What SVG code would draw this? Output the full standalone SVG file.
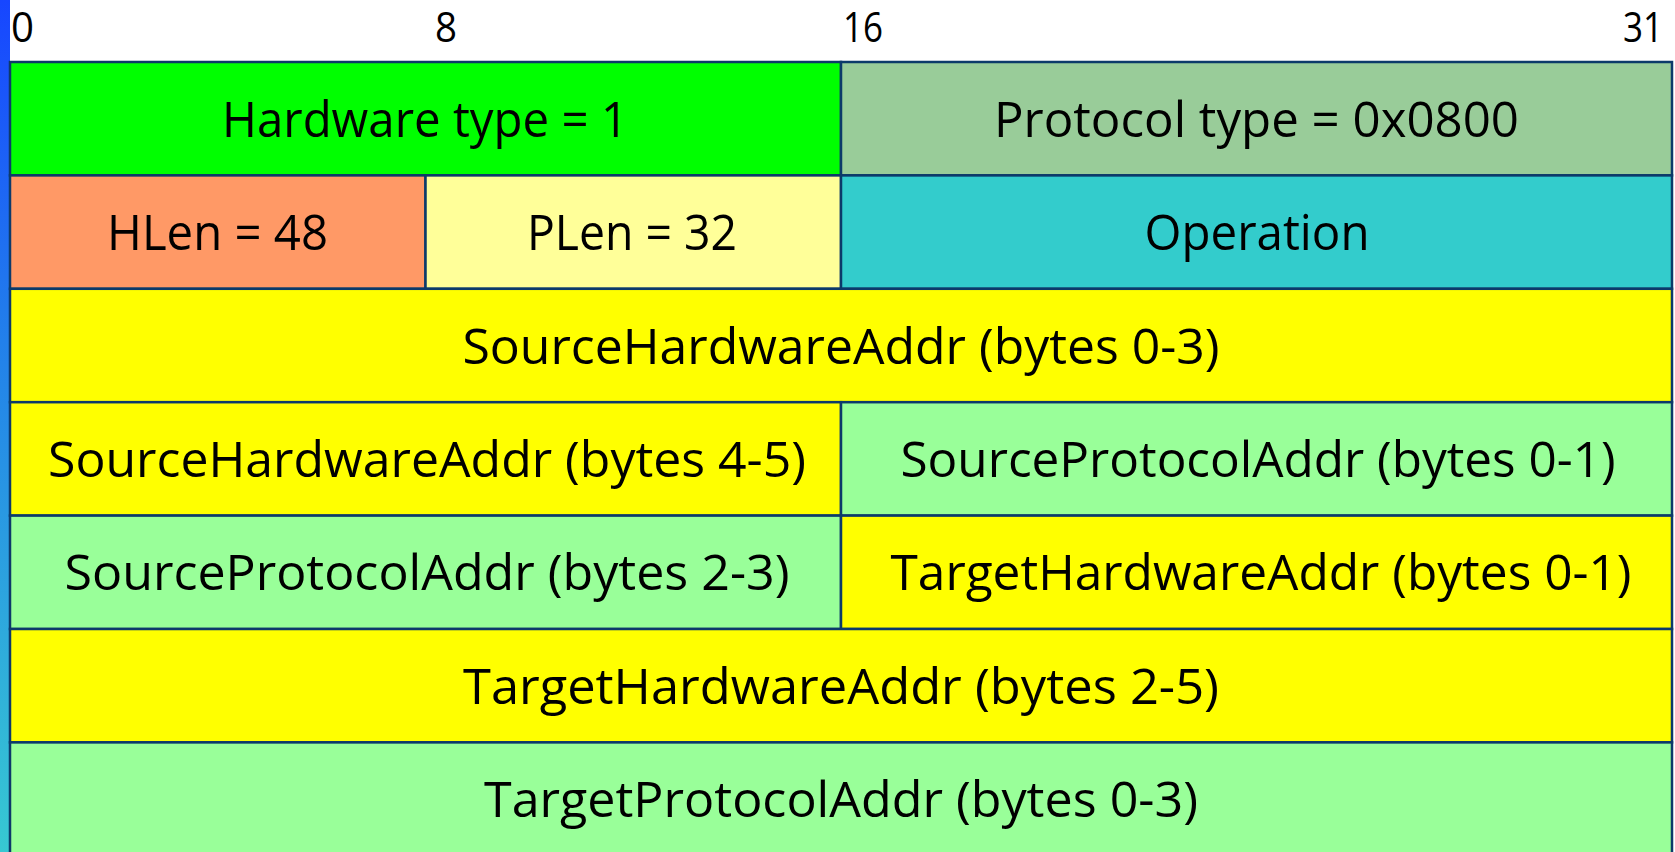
<svg xmlns="http://www.w3.org/2000/svg" width="1675" height="852" viewBox="0 0 1675 852">
  <defs>
    <linearGradient id="strip" x1="0" y1="0" x2="0" y2="1">
      <stop offset="0" stop-color="#1746ff"/>
      <stop offset="0.4" stop-color="#2280ea"/>
      <stop offset="1" stop-color="#37c8d2"/>
    </linearGradient>
  </defs>
  <style>
    .cell { stroke: #0c3a6a; stroke-width: 2.5; }
    .lbl { font-family: "Open Sans", "Liberation Sans", sans-serif; font-size: 50px; fill: #000; text-anchor: middle; }
    .hdr { font-family: "Open Sans", "Liberation Sans", sans-serif; font-size: 42px; fill: #000; }
  </style>
  <rect x="0" y="0" width="1675" height="852" fill="#ffffff"/>
  <rect x="0" y="0" width="10" height="852" fill="url(#strip)"/>

  <g id="header">
    <text class="hdr" x="11" y="42" textLength="23" lengthAdjust="spacingAndGlyphs">0</text>
    <text class="hdr" x="435" y="42" textLength="22" lengthAdjust="spacingAndGlyphs">8</text>
    <text class="hdr" x="843" y="42" textLength="40" lengthAdjust="spacingAndGlyphs">16</text>
    <text class="hdr" x="1623" y="42" textLength="40" lengthAdjust="spacingAndGlyphs">31</text>
  </g>

  <g id="hardware-type">
    <rect class="cell" x="10" y="62" width="831" height="113.4" fill="#00ff00"/>
    <text class="lbl" x="425" y="136.5" textLength="406" lengthAdjust="spacingAndGlyphs">Hardware type = 1</text>
  </g>
  <g id="protocol-type">
    <rect class="cell" x="841" y="62" width="831" height="113.4" fill="#99cc99"/>
    <text class="lbl" x="1256.5" y="136.5" textLength="525" lengthAdjust="spacingAndGlyphs">Protocol type = 0x0800</text>
  </g>
  <g id="hlen">
    <rect class="cell" x="10" y="175.4" width="415.5" height="113.4" fill="#ff9966"/>
    <text class="lbl" x="217.5" y="250" textLength="221" lengthAdjust="spacingAndGlyphs">HLen = 48</text>
  </g>
  <g id="plen">
    <rect class="cell" x="425.5" y="175.4" width="415.5" height="113.4" fill="#ffff99"/>
    <text class="lbl" x="632" y="250" textLength="210" lengthAdjust="spacingAndGlyphs">PLen = 32</text>
  </g>
  <g id="operation">
    <rect class="cell" x="841" y="175.4" width="831" height="113.4" fill="#33cccc"/>
    <text class="lbl" x="1257" y="250" textLength="225" lengthAdjust="spacingAndGlyphs">Operation</text>
  </g>
  <g id="sha-0-3">
    <rect class="cell" x="10" y="288.8" width="1662" height="113.4" fill="#ffff00"/>
    <text class="lbl" x="841" y="363.5" textLength="757" lengthAdjust="spacingAndGlyphs">SourceHardwareAddr (bytes 0-3)</text>
  </g>
  <g id="sha-4-5">
    <rect class="cell" x="10" y="402.2" width="831" height="113.4" fill="#ffff00"/>
    <text class="lbl" x="427" y="477" textLength="758" lengthAdjust="spacingAndGlyphs">SourceHardwareAddr (bytes 4-5)</text>
  </g>
  <g id="spa-0-1">
    <rect class="cell" x="841" y="402.2" width="831" height="113.4" fill="#99ff99"/>
    <text class="lbl" x="1258" y="477" textLength="715" lengthAdjust="spacingAndGlyphs">SourceProtocolAddr (bytes 0-1)</text>
  </g>
  <g id="spa-2-3">
    <rect class="cell" x="10" y="515.6" width="831" height="113.4" fill="#99ff99"/>
    <text class="lbl" x="427" y="590.3" textLength="725" lengthAdjust="spacingAndGlyphs">SourceProtocolAddr (bytes 2-3)</text>
  </g>
  <g id="tha-0-1">
    <rect class="cell" x="841" y="515.6" width="831" height="113.4" fill="#ffff00"/>
    <text class="lbl" x="1261" y="590.3" textLength="741" lengthAdjust="spacingAndGlyphs">TargetHardwareAddr (bytes 0-1)</text>
  </g>
  <g id="tha-2-5">
    <rect class="cell" x="10" y="629" width="1662" height="113.4" fill="#ffff00"/>
    <text class="lbl" x="841" y="703.7" textLength="756" lengthAdjust="spacingAndGlyphs">TargetHardwareAddr (bytes 2-5)</text>
  </g>
  <g id="tpa-0-3">
    <rect class="cell" x="10" y="742.4" width="1662" height="113.4" fill="#99ff99"/>
    <text class="lbl" x="841" y="817" textLength="714" lengthAdjust="spacingAndGlyphs">TargetProtocolAddr (bytes 0-3)</text>
  </g>
  <g id="connectors"/>
</svg>
